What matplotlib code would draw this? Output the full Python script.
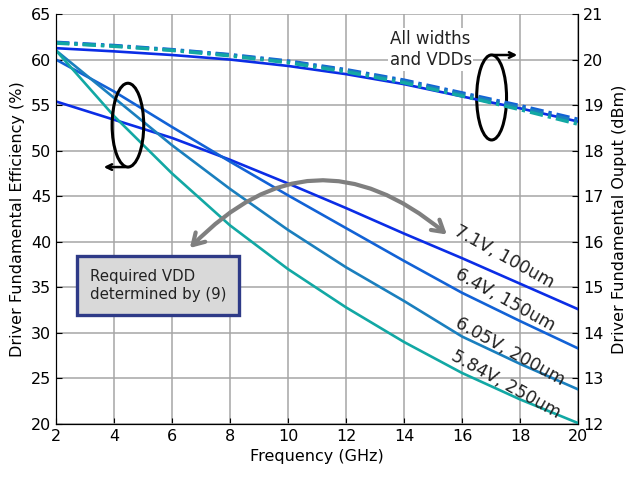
import numpy as np
import matplotlib
matplotlib.use('Agg')
import matplotlib.pyplot as plt
from matplotlib.patches import Ellipse, FancyArrowPatch

# frequency points (GHz)
freq = [2, 4, 6, 8, 10, 12, 14, 16, 18, 20]

# driver fundamental efficiency (%), left axis
eff_71 = [55.4, 53.4, 51.4, 49.0, 46.4, 43.7, 40.9, 38.2, 35.4, 32.6]
eff_64 = [60.0, 56.5, 52.6, 48.8, 45.1, 41.5, 37.9, 34.4, 31.3, 28.3]
eff_605 = [61.0, 55.8, 50.6, 45.8, 41.3, 37.2, 33.5, 29.6, 26.6, 23.8]
eff_584 = [61.0, 53.8, 47.5, 41.8, 37.0, 32.8, 29.0, 25.6, 22.7, 20.1]

# driver fundamental output (dBm), right axis
pout_71 = [20.25, 20.18, 20.10, 20.00, 19.86, 19.68, 19.46, 19.19, 18.93, 18.64]
pout_64 = [20.38, 20.31, 20.22, 20.11, 19.97, 19.78, 19.55, 19.27, 18.99, 18.69]
pout_605 = [20.37, 20.30, 20.21, 20.10, 19.95, 19.76, 19.52, 19.24, 18.95, 18.64]
pout_584 = [20.36, 20.29, 20.20, 20.08, 19.93, 19.73, 19.49, 19.20, 18.90, 18.58]

labels = ['7.1V, 100um', '6.4V, 150um', '6.05V, 200um', '5.84V, 250um']
colors = ['#0b2de6', '#1262d6', '#1a7fbe', '#12a8a4']

plt.rcParams['font.family'] = 'DejaVu Sans'

fig = plt.figure(figsize=(6.27, 4.78), dpi=100)
ax = fig.add_axes([0.0893, 0.113, 0.8326, 0.8577])
ax2 = ax.twinx()

effs = [eff_71, eff_64, eff_605, eff_584]
pouts = [pout_71, pout_64, pout_605, pout_584]
for e, c in zip(effs, colors):
    ax.plot(freq, e, color=c, lw=1.9, zorder=3)
ax2.plot(freq, pout_71, color=colors[0], lw=1.9)
for p, c in zip(pouts[1:], colors[1:]):
    ax2.plot(freq, p, color=c, lw=2.4, ls=(0, (4, 1.5, 1, 1.5)))

ax.set_xlim(2, 20)
ax.set_ylim(20, 65)
ax2.set_ylim(12, 21)
ax.set_xticks(np.arange(2, 21, 2))
ax.set_yticks(np.arange(20, 66, 5))
ax2.set_yticks(np.arange(12, 22, 1))
ax.grid(True, color='#a6a6a6', lw=1.1)
ax.set_axisbelow(True)

for a in (ax, ax2):
    a.spines['top'].set_visible(False)
    a.tick_params(direction='in', labelsize=11.5, length=4)
ax.set_xlabel('Frequency (GHz)', fontsize=11.5)
ax.set_ylabel('Driver Fundamental Efficiency (%)', fontsize=11.5, labelpad=4)
ax2.set_ylabel('Driver Fundamental Ouput (dBm)', fontsize=11.5, labelpad=6)

# curve labels
lab_pos = [(17.45, 38.3), (17.5, 33.6), (17.65, 27.9), (17.5, 24.3)]
for (x, y), t in zip(lab_pos, labels):
    ax.text(x, y, t, rotation=-29, fontsize=12.5, ha='center', va='center',
            color='#222222', zorder=5)

ax.text(13.5, 61.1, 'All widths\nand VDDs', fontsize=12, ha='left', va='center',
        color='#222222', linespacing=1.25,
        bbox=dict(facecolor='white', edgecolor='none', pad=1), zorder=5)

# ellipses with arrows
ax.add_patch(Ellipse((4.48, 52.8), 1.09, 9.2, fill=False, ec='k', lw=2.2, zorder=6))
ax.annotate('', xy=(3.55, 48.2), xytext=(4.48, 48.2),
            arrowprops=dict(arrowstyle='->', lw=1.8, color='k'), zorder=6)
ax.add_patch(Ellipse((17.02, 55.84), 1.03, 9.33, fill=False, ec='k', lw=2.2, zorder=6))
ax.annotate('', xy=(18.0, 60.5), xytext=(17.0, 60.5),
            arrowprops=dict(arrowstyle='->', lw=1.8, color='k'), zorder=6)

# double curved arrow
arc = FancyArrowPatch((6.55, 39.1), (15.55, 40.6), connectionstyle='arc3,rad=-0.47',
                      arrowstyle='<->,head_length=5,head_width=3', color='#7f7f7f',
                      lw=3, mutation_scale=1.6, zorder=6)
ax.add_patch(arc)

ax.text(3.17, 35.2, 'Required VDD\ndetermined by (9)', fontsize=10.8, ha='left', va='center',
        color='#222222', linespacing=1.3, zorder=7,
        bbox=dict(boxstyle='square,pad=0.85', facecolor='#d9d9d9', edgecolor='#2e3a87', lw=2.4))

fig.savefig('out.png', dpi=100)
